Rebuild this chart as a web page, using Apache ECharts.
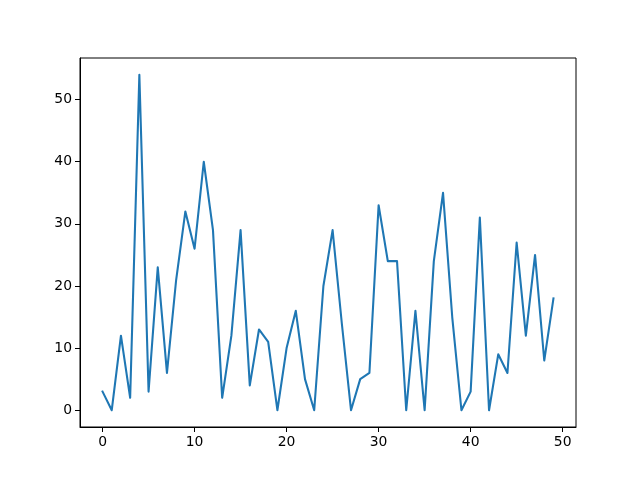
<!DOCTYPE html>
<html>
<head>
<meta charset="utf-8">
<script src="https://cdn.jsdelivr.net/npm/echarts@6/dist/echarts.min.js"></script>
<style>html,body{margin:0;padding:0;background:#fff;}#c{width:640px;height:480px;}</style>
</head>
<body>
<div id="c"></div>
<script>
const xValues = [0,1,2,3,4,5,6,7,8,9,10,11,12,13,14,15,16,17,18,19,20,21,22,23,24,25,26,27,28,29,30,31,32,33,34,35,36,37,38,39,40,41,42,43,44,45,46,47,48,49];
const yValues = [3,0,12,2,54,3,23,6,21,32,26,40,29,2,12,29,4,13,11,0,10,16,5,0,20,29,14,0,5,6,33,24,24,0,16,0,24,35,15,0,3,31,0,9,6,27,12,25,8,18];
const xTicks = [0,10,20,30,40,50];
const yTicks = [0,10,20,30,40,50];

const chart = echarts.init(document.getElementById('c'), null, {renderer:'canvas'});
const font = {fontFamily:'DejaVu Sans', fontSize:13.9, color:'#000'};
chart.setOption({
  animation:false,
  backgroundColor:'#fff',
  grid:{left:80, right:64, top:58, bottom:53, show:true, borderColor:'#000', borderWidth:1, containLabel:false},
  xAxis:{
    type:'value', min:-2.45, max:51.45,
    splitLine:{show:false},
    axisLine:{show:true, onZero:false, lineStyle:{color:'#000', width:1}},
    axisTick:{show:true, length:5, inside:false, customValues:xTicks, lineStyle:{color:'#000'}},
    axisLabel:Object.assign({customValues:xTicks, margin:8}, font)
  },
  yAxis:{
    type:'value', min:-2.7, max:56.7,
    splitLine:{show:false},
    axisLine:{show:true, onZero:false, lineStyle:{color:'#000', width:1}},
    axisTick:{show:true, length:5, inside:false, customValues:yTicks, lineStyle:{color:'#000'}},
    axisLabel:Object.assign({customValues:yTicks, margin:8}, font)
  },
  series:[{
    type:'line',
    data:xValues.map((x,i)=>[x,yValues[i]]),
    showSymbol:false,
    symbol:'none',
    lineStyle:{color:'#1f77b4', width:2.08, cap:'square', join:'round'},
    itemStyle:{color:'#1f77b4'}
  }]
});
</script>
</body>
</html>
